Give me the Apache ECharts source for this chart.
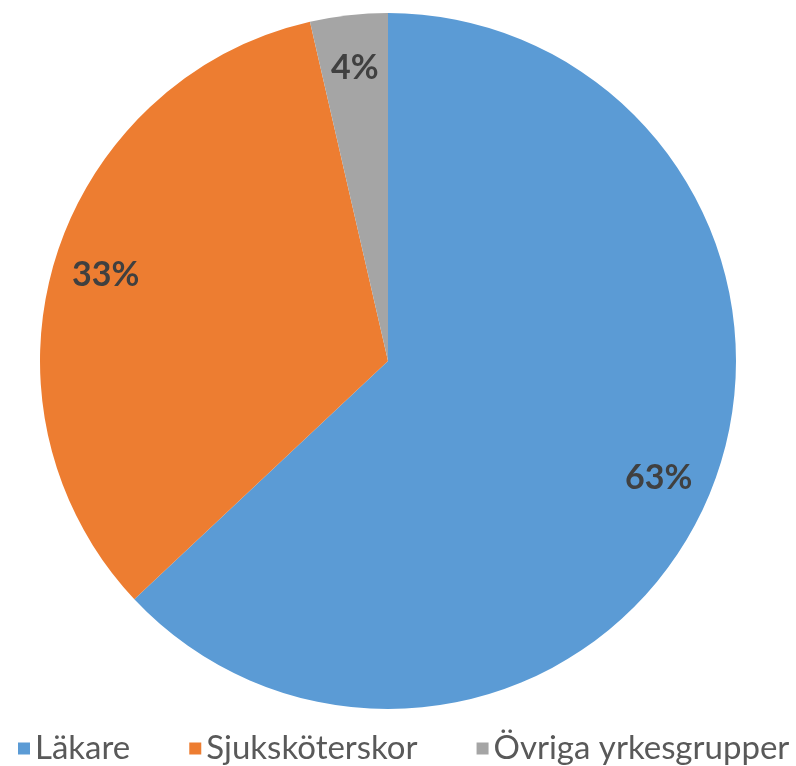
<!DOCTYPE html>
<html>
<head>
<meta charset="utf-8">
<script src="https://cdn.jsdelivr.net/npm/echarts@6/dist/echarts.min.js"></script>
<style>
  html, body { margin: 0; padding: 0; background: #fff; }
  #chart { width: 796px; height: 766px; }
</style>
</head>
<body>
<div id="chart"></div>
<script>
// categories and shares (percent)
var categories = ['Läkare', 'Sjuksköterskor', 'Övriga yrkesgrupper'];
var shares = [63, 33.4, 3.6];
var colors = ['#5B9BD5', '#ED7D31', '#A5A5A5'];

var pieData = categories.map(function (name, i) {
  return { name: name, value: shares[i] };
});

var chart = echarts.init(document.getElementById('chart'));

chart.setOption({
  animation: false,
  color: colors,
  legend: {
    data: categories,
    left: 13,
    top: 727,
    itemGap: 59,
    itemWidth: 12,
    itemHeight: 12,
    icon: 'rect',
    textStyle: {
      color: '#595959',
      fontSize: 33,
      fontFamily: 'Lato'
    }
  },
  series: [
    {
      // the slices
      type: 'pie',
      center: [388, 361],
      radius: 348,
      startAngle: 90,
      clockwise: true,
      label: { show: false },
      labelLine: { show: false },
      emphasis: { disabled: true },
      data: pieData
    },
    {
      // transparent ring only used to place the percent labels near the rim
      type: 'pie',
      center: [388, 361],
      radius: [236, 348],
      startAngle: 90,
      clockwise: true,
      silent: true,
      percentPrecision: 0,
      itemStyle: { color: 'transparent' },
      emphasis: { disabled: true },
      labelLine: { show: false },
      label: {
        show: true,
        position: 'inside',
        formatter: '{d}%',
        color: '#404040',
        fontSize: 34,
        fontWeight: 'bold',
        fontFamily: 'Lato'
      },
      data: pieData
    }
  ]
});
</script>
</body>
</html>
